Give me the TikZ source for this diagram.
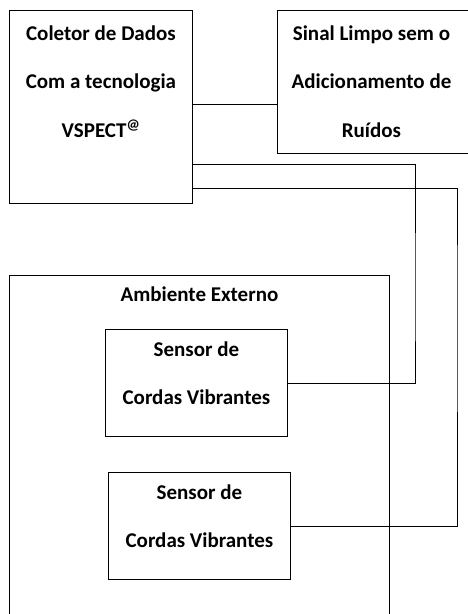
\documentclass[tikz,border=0pt]{standalone}
\usepackage{fontspec}
\setmainfont{Carlito}

\begin{document}
\begin{tikzpicture}[x=1pt,y=-1pt,line width=0.9pt,
  box/.style={draw,anchor=north west,inner sep=0pt},
  txt/.style={anchor=north,align=center,inner sep=0pt,font=\bfseries\fontsize{21}{48.5}\selectfont}]
  \useasboundingbox (0,0) rectangle (467,614);
  % boxes
  \node[box,minimum width=183pt,minimum height=193pt] (col) at (9,10) {};
  \node[box,minimum width=192pt,minimum height=143pt] (sinal) at (277,10) {};
  \node[box,minimum width=380pt,minimum height=365pt] (amb) at (9,275) {};
  \node[box,minimum width=182pt,minimum height=107pt] (s1) at (105,329) {};
  \node[box,minimum width=182pt,minimum height=107pt] (s2) at (108,472) {};
  % texts
  \node[txt] (colt) at ([yshift=-15pt]col.north) {Coletor de Dados\\Com a tecnologia\\VSPECT\textsuperscript{@}};
  \node[txt] (sinalt) at ([xshift=-2pt,yshift=-15pt]sinal.north) {Sinal Limpo sem o\\Adicionamento de\\Ruídos};
  \node[txt] (ambt) at ([yshift=-11pt]amb.north) {Ambiente Externo};
  \node[txt] (s1t) at ([yshift=-12pt]s1.north) {Sensor de\\Cordas Vibrantes};
  \node[txt] (s2t) at ([yshift=-12pt]s2.north) {Sensor de\\Cordas Vibrantes};
  % connectors
  \coordinate (v1) at (415,300);
  \coordinate (v2) at (457,300);
  \draw ([yshift=2.5pt]col.east) -- ([yshift=2.5pt]col.east -| sinal.west);
  \draw ([yshift=-57.5pt]col.east) -| (v1) |- (s1.east);
  \draw ([yshift=-81.5pt]col.east) -| (v2) |- (s2.east);
\end{tikzpicture}
\end{document}
